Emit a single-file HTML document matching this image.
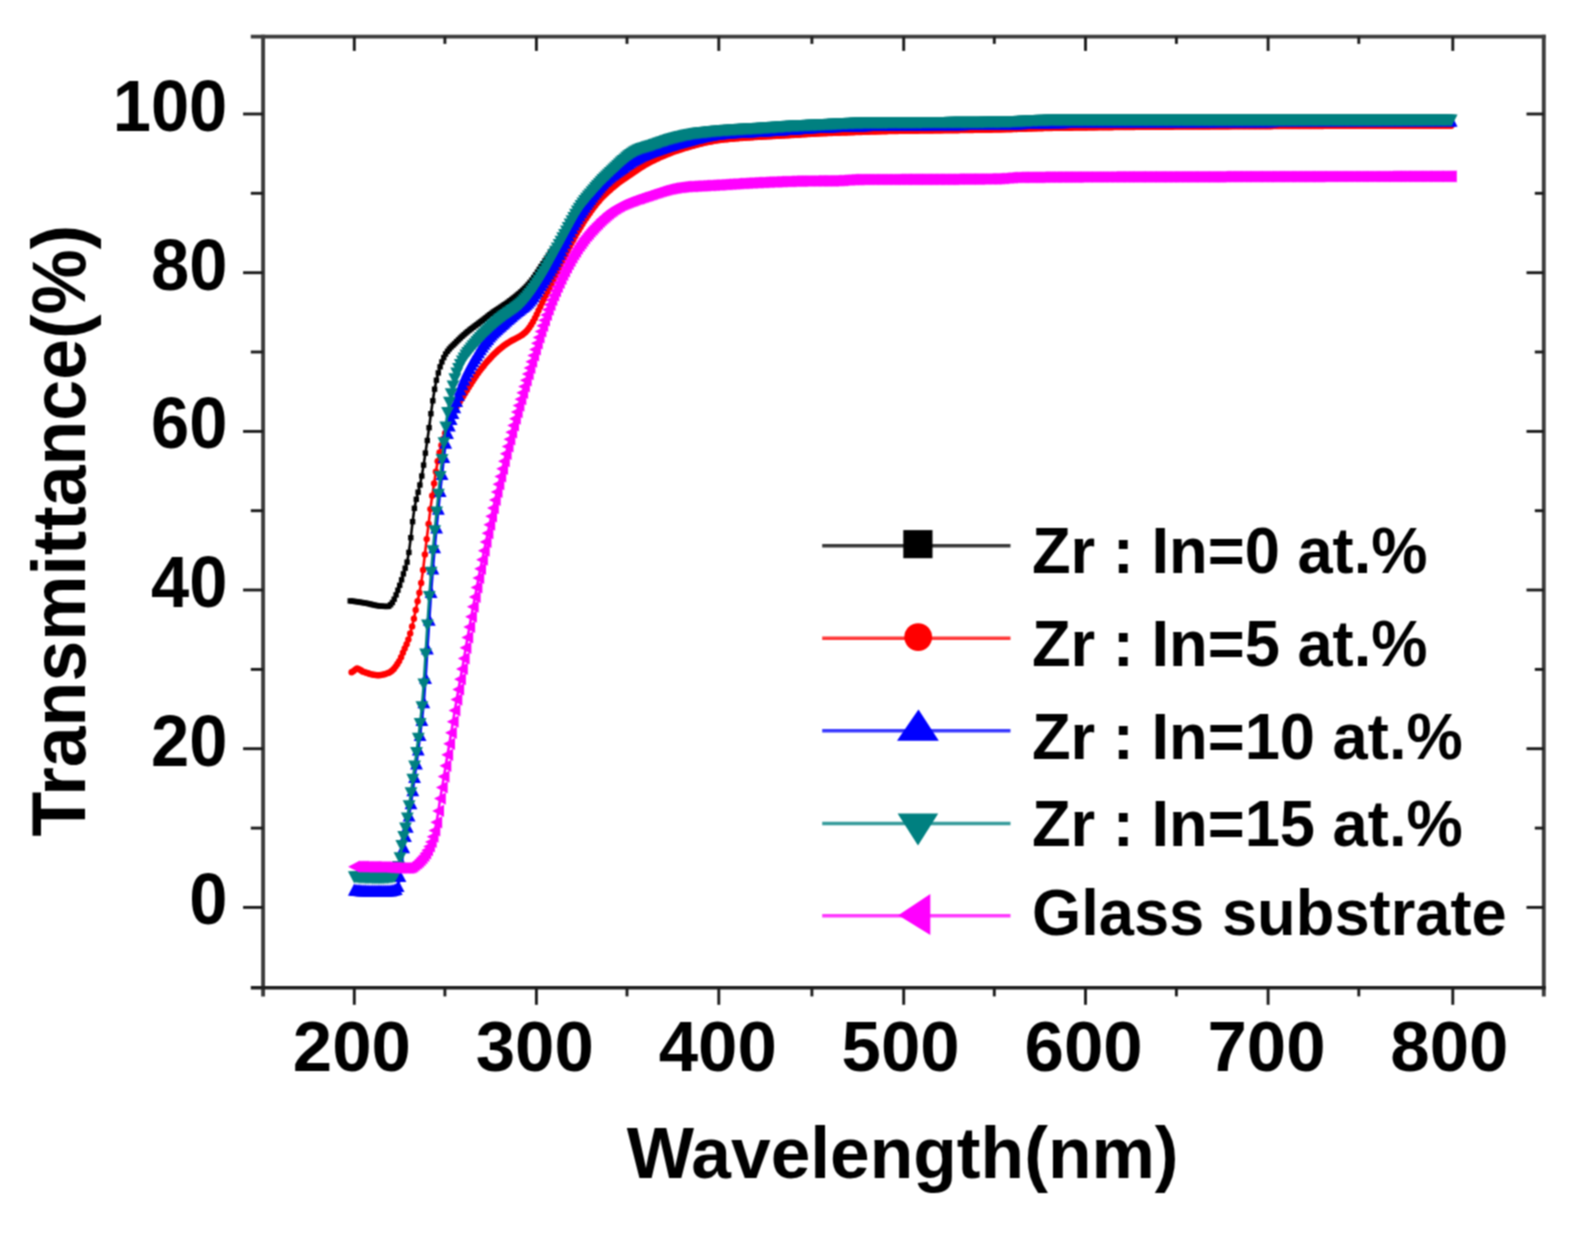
<!DOCTYPE html>
<html lang="en">
<head>
<meta charset="utf-8">
<title>Transmittance vs Wavelength</title>
<style>
html,body{margin:0;padding:0;background:#fff;}
body{width:1579px;height:1233px;overflow:hidden;}
svg{display:block;}
text{font-family:"Liberation Sans",sans-serif;font-weight:bold;fill:#000;}
</style>
</head>
<body>
<svg width="1579" height="1233" viewBox="0 0 1579 1233">
<defs>
<filter id="soft" filterUnits="userSpaceOnUse" x="0" y="0" width="1579" height="1233" color-interpolation-filters="sRGB"><feConvolveMatrix order="3" kernelMatrix="1 2 1 2 4 2 1 2 1" divisor="16" edgeMode="duplicate" preserveAlpha="false"/></filter>
<marker id="mk" markerUnits="userSpaceOnUse" markerWidth="10" markerHeight="10" refX="5" refY="5" viewBox="0 0 10 10"><rect x="2.3" y="2.3" width="5.4" height="5.4" fill="#000"/></marker>
<marker id="mr" markerUnits="userSpaceOnUse" markerWidth="10" markerHeight="10" refX="5" refY="5" viewBox="0 0 10 10"><circle cx="5" cy="5" r="3.2" fill="#f00"/></marker>
<marker id="mb" markerUnits="userSpaceOnUse" markerWidth="14" markerHeight="14" refX="7" refY="7" viewBox="0 0 14 14"><path d="M7 0.6 L13.4 12.8 L0.6 12.8 Z" fill="#00f"/></marker>
<marker id="mt" markerUnits="userSpaceOnUse" markerWidth="14" markerHeight="14" refX="7" refY="7" viewBox="0 0 14 14"><path d="M7 13.4 L13.4 1.2 L0.6 1.2 Z" fill="#008080"/></marker>
<marker id="mm" markerUnits="userSpaceOnUse" markerWidth="14" markerHeight="14" refX="7" refY="7" viewBox="0 0 14 14"><path d="M0.8 7 L12.6 0.9 L12.6 13.1 Z" fill="#f0f"/></marker>
</defs>
<g filter="url(#soft)">
<rect x="0" y="0" width="1579" height="1233" fill="#fff"/>

<g fill="none" stroke-linejoin="round">
<polyline stroke="#000" stroke-width="2.6" marker-start="url(#mk)" marker-mid="url(#mk)" marker-end="url(#mk)" points="350.2,600.9 352.0,601.1 353.9,601.3 355.7,601.6 357.5,601.8 359.4,602.1 361.2,602.4 363.0,602.7 364.9,603.0 366.7,603.3 368.6,603.7 370.4,604.1 372.2,604.6 374.1,605.0 375.9,605.4 377.7,605.7 379.6,606.0 381.4,606.1 383.2,606.3 385.1,606.4 386.9,606.5 388.7,606.3 390.6,604.7 392.4,602.5 394.2,599.2 396.1,594.9 397.9,590.2 399.7,585.3 401.6,579.8 403.4,573.9 405.2,568.2 407.1,562.1 408.9,552.4 410.8,537.7 412.6,521.7 414.4,508.3 416.3,499.3 418.1,492.2 419.9,485.0 421.8,476.0 423.6,465.1 425.4,453.1 427.3,440.5 429.1,427.7 430.9,413.7 432.8,400.8 434.6,389.2 436.4,380.2 438.3,372.9 440.1,366.8 441.9,361.9 443.8,357.6 445.6,354.0 447.5,351.3 449.3,349.0 451.1,347.0 453.0,345.2 454.8,343.5 456.6,341.6 458.5,339.8 460.3,338.0 462.1,336.3 464.0,334.7 465.8,333.1 467.6,331.6 469.5,330.1 471.3,328.7 473.1,327.3 475.0,325.9 476.8,324.6 478.6,323.2 480.5,321.8 482.3,320.4 484.2,319.0 486.0,317.6 487.8,316.1 489.7,314.7 491.5,313.4 493.3,312.0 495.2,310.8 497.0,309.6 498.8,308.4 500.7,307.2 502.5,306.0 504.3,304.7 506.2,303.5 508.0,302.2 509.8,300.8 511.7,299.4 513.5,298.0 515.4,296.5 517.2,295.0 519.0,293.5 520.9,291.8 522.7,290.2 524.5,288.4 526.4,286.5 528.2,284.5 530.0,282.3 531.9,280.0 533.7,277.5 535.5,274.8 537.4,272.1 539.2,269.3 541.0,266.5 542.9,263.7 544.7,261.0 546.5,258.3 548.4,255.8 550.2,253.3 552.0,250.9 553.9,248.5 555.7,246.1 557.6,243.7 559.4,241.1 561.2,238.5 563.1,235.7 564.9,232.7 566.7,229.7 568.6,226.5 570.4,223.3 572.2,220.0 574.1,216.8 575.9,213.7 577.7,210.7 579.6,207.9 581.4,205.2 583.2,202.7 585.1,200.3 586.9,198.0 588.8,195.8 590.6,193.7 592.4,191.5 594.3,189.4 596.1,187.3 597.9,185.3 599.8,183.3 601.6,181.3 603.4,179.4 605.3,177.6 607.1,175.7 608.9,174.0 610.8,172.2 612.6,170.5 614.4,168.7 616.3,167.0 618.1,165.3 619.9,163.6 621.8,161.9 623.6,160.2 625.5,158.6 627.3,157.1 629.1,155.6 631.0,154.2 632.8,152.9 634.6,151.7 636.5,150.5 638.3,149.5 640.1,148.5 642.0,147.6 643.8,146.7 645.6,146.0 647.5,145.2 649.3,144.5 651.1,143.8 653.0,143.2 654.8,142.5 656.6,141.9 658.5,141.4 660.3,140.8 662.1,140.3 664.0,139.8 665.8,139.3 667.7,138.8 669.5,138.4 671.3,137.9 673.2,137.5 675.0,137.1 676.8,136.8 678.7,136.4 680.5,136.1 682.3,135.7 684.2,135.4 686.0,135.1 687.8,134.8 689.7,134.5 691.5,134.3 693.3,134.0 695.2,133.7 697.0,133.5 698.8,133.3 700.7,133.0 702.5,132.8 704.4,132.6 706.2,132.4 708.0,132.2 709.9,132.0 711.7,131.8 713.5,131.6 715.4,131.4 717.2,131.3 719.0,131.1 720.9,130.9 722.7,130.8 724.5,130.7 726.4,130.5 728.2,130.4 730.0,130.3 731.9,130.1 733.7,130.0 735.5,129.9 737.4,129.8 739.2,129.7 741.1,129.6 742.9,129.5 744.7,129.4 746.6,129.3 748.4,129.2 750.2,129.1 752.1,129.0 753.9,128.9 755.7,128.8 757.6,128.6 759.4,128.5 761.2,128.4 763.1,128.3 764.9,128.2 766.7,128.0 768.6,127.9 770.4,127.8 772.2,127.7 774.1,127.5 775.9,127.4 777.8,127.3 779.6,127.1 781.4,127.0 783.3,126.9 785.1,126.7 786.9,126.6 788.8,126.5 790.6,126.4 792.4,126.3 794.3,126.2 796.1,126.1 797.9,126.0 799.8,125.9 801.6,125.8 803.4,125.7 805.3,125.7 807.1,125.6 809.0,125.5 810.8,125.5 812.6,125.4 814.5,125.3 816.3,125.2 818.1,125.1 820.0,125.0 821.8,125.0 823.6,124.9 825.5,124.8 827.3,124.7 829.1,124.6 831.0,124.5 832.8,124.4 834.6,124.3 836.5,124.2 838.3,124.1 840.1,124.0 842.0,123.9 843.8,123.9 845.6,123.8 847.5,123.7 849.3,123.6 851.2,123.6 853.0,123.5 854.8,123.5 856.7,123.4 858.5,123.4 860.3,123.3 862.2,123.3 864.0,123.2 865.8,123.2 867.7,123.2 869.5,123.1 871.3,123.1 873.2,123.1 875.0,123.1 876.8,123.0 878.7,123.0 880.5,123.0 882.3,123.0 884.2,123.0 886.0,123.0 887.9,122.9 889.7,122.9 891.5,122.9 893.4,122.9 895.2,122.9 897.0,122.9 898.9,122.9 900.7,122.9 902.5,122.8 904.4,122.8 906.2,122.8 908.0,122.8 909.9,122.8 911.7,122.8 913.5,122.8 915.4,122.8 917.2,122.8 919.0,122.8 920.9,122.8 922.7,122.7 924.6,122.7 926.4,122.7 928.2,122.7 930.1,122.7 931.9,122.7 933.7,122.7 935.6,122.7 937.4,122.7 939.2,122.7 941.1,122.7 942.9,122.7 944.7,122.7 946.6,122.7 948.4,122.7 950.2,122.6 952.1,122.6 953.9,122.6 955.8,122.6 957.6,122.6 959.4,122.6 961.3,122.6 963.1,122.6 964.9,122.6 966.8,122.6 968.6,122.6 970.4,122.5 972.3,122.5 974.1,122.5 975.9,122.5 977.8,122.5 979.6,122.5 981.4,122.5 983.3,122.5 985.1,122.4 986.9,122.4 988.8,122.4 990.6,122.4 992.5,122.4 994.3,122.4 996.1,122.3 998.0,122.3 999.8,122.3 1001.6,122.2 1003.5,122.2 1005.3,122.2 1007.1,122.1 1009.0,122.0 1010.8,122.0 1012.6,121.9 1014.5,121.8 1016.3,121.7 1018.1,121.6 1020.0,121.5 1021.8,121.5 1023.6,121.4 1025.5,121.3 1027.3,121.2 1029.1,121.1 1031.0,121.0 1032.8,120.9 1034.7,120.8 1036.5,120.8 1038.3,120.7 1040.2,120.6 1042.0,120.6 1043.8,120.5 1045.7,120.5 1047.5,120.5 1049.3,120.4 1051.2,120.4 1053.0,120.4 1054.8,120.4 1056.7,120.4 1058.5,120.4 1060.3,120.4 1062.2,120.4 1064.0,120.4 1065.8,120.4 1067.7,120.4 1069.5,120.4 1071.4,120.4 1073.2,120.4 1075.0,120.4 1076.9,120.4 1078.7,120.4 1080.5,120.4 1082.4,120.4 1084.2,120.4 1086.0,120.4 1087.9,120.4 1089.7,120.3 1091.5,120.3 1093.4,120.3 1095.2,120.3 1097.0,120.3 1098.9,120.3 1100.7,120.3 1102.5,120.3 1104.4,120.3 1106.2,120.3 1108.1,120.3 1109.9,120.3 1111.7,120.3 1113.6,120.3 1115.4,120.3 1117.2,120.3 1119.1,120.3 1120.9,120.3 1122.7,120.3 1124.6,120.3 1126.4,120.3 1128.2,120.3 1130.1,120.3 1131.9,120.3 1133.7,120.3 1135.6,120.3 1137.4,120.3 1139.2,120.3 1141.1,120.3 1142.9,120.3 1144.8,120.3 1146.6,120.3 1148.4,120.3 1150.3,120.3 1152.1,120.3 1153.9,120.3 1155.8,120.3 1157.6,120.3 1159.4,120.3 1161.3,120.3 1163.1,120.3 1164.9,120.3 1166.8,120.3 1168.6,120.3 1170.4,120.3 1172.3,120.3 1174.1,120.3 1176.0,120.3 1177.8,120.3 1179.6,120.3 1181.5,120.3 1183.3,120.3 1185.1,120.3 1187.0,120.3 1188.8,120.3 1190.6,120.3 1192.5,120.3 1194.3,120.3 1196.1,120.3 1198.0,120.3 1199.8,120.3 1201.6,120.3 1203.5,120.3 1205.3,120.3 1207.1,120.3 1209.0,120.3 1210.8,120.3 1212.6,120.3 1214.5,120.3 1216.3,120.3 1218.2,120.3 1220.0,120.3 1221.8,120.3 1223.7,120.3 1225.5,120.3 1227.3,120.3 1229.2,120.3 1231.0,120.3 1232.8,120.3 1234.7,120.3 1236.5,120.3 1238.3,120.3 1240.2,120.3 1242.0,120.3 1243.8,120.3 1245.7,120.3 1247.5,120.3 1249.3,120.3 1251.2,120.3 1253.0,120.3 1254.9,120.3 1256.7,120.3 1258.5,120.3 1260.4,120.3 1262.2,120.3 1264.0,120.3 1265.9,120.3 1267.7,120.3 1269.5,120.3 1271.4,120.3 1273.2,120.3 1275.0,120.3 1276.9,120.3 1278.7,120.3 1280.5,120.3 1282.4,120.3 1284.2,120.3 1286.0,120.3 1287.9,120.3 1289.7,120.3 1291.6,120.3 1293.4,120.3 1295.2,120.3 1297.1,120.3 1298.9,120.3 1300.7,120.3 1302.6,120.3 1304.4,120.3 1306.2,120.3 1308.1,120.3 1309.9,120.3 1311.7,120.3 1313.6,120.3 1315.4,120.3 1317.2,120.3 1319.1,120.3 1320.9,120.3 1322.8,120.3 1324.6,120.3 1326.4,120.3 1328.3,120.3 1330.1,120.3 1331.9,120.3 1333.8,120.3 1335.6,120.3 1337.4,120.3 1339.3,120.3 1341.1,120.3 1342.9,120.3 1344.8,120.3 1346.6,120.3 1348.4,120.3 1350.3,120.3 1352.1,120.3 1353.9,120.3 1355.8,120.3 1357.6,120.3 1359.5,120.3 1361.3,120.3 1363.1,120.3 1365.0,120.3 1366.8,120.3 1368.6,120.3 1370.5,120.3 1372.3,120.3 1374.1,120.3 1376.0,120.3 1377.8,120.3 1379.6,120.3 1381.5,120.3 1383.3,120.3 1385.1,120.3 1387.0,120.3 1388.8,120.3 1390.6,120.3 1392.5,120.3 1394.3,120.4 1396.2,120.4 1398.0,120.4 1399.8,120.4 1401.7,120.4 1403.5,120.4 1405.3,120.4 1407.2,120.4 1409.0,120.4 1410.8,120.4 1412.7,120.4 1414.5,120.4 1416.3,120.4 1418.2,120.4 1420.0,120.4 1421.8,120.4 1423.7,120.4 1425.5,120.4 1427.3,120.4 1429.2,120.4 1431.0,120.4 1432.9,120.4 1434.7,120.4 1436.5,120.4 1438.4,120.4 1440.2,120.4 1442.0,120.4 1443.9,120.4 1445.7,120.4 1447.5,120.4 1449.4,120.4 1451.2,120.4"/>
<polyline stroke="#f00" stroke-width="2.6" marker-start="url(#mr)" marker-mid="url(#mr)" marker-end="url(#mr)" points="351.6,672.2 353.4,671.1 355.3,669.6 357.1,668.5 358.9,669.1 360.8,670.3 362.6,671.5 364.4,672.1 366.3,672.8 368.1,673.3 369.9,673.9 371.8,674.4 373.6,674.8 375.4,675.0 377.3,675.2 379.1,675.2 380.9,675.0 382.8,674.6 384.6,674.2 386.4,673.6 388.3,672.9 390.1,672.1 391.9,670.8 393.8,668.9 395.6,666.6 397.4,664.0 399.2,661.1 401.1,657.3 402.9,652.8 404.7,648.4 406.6,644.2 408.4,639.4 410.2,633.5 412.1,626.4 413.9,618.7 415.7,610.0 417.6,601.3 419.4,592.8 421.2,583.0 423.1,569.9 424.9,554.4 426.7,539.1 428.6,523.9 430.4,509.1 432.2,495.8 434.1,483.4 435.9,471.7 437.7,461.2 439.6,452.4 441.4,445.2 443.2,438.9 445.1,433.2 446.9,427.8 448.7,423.0 450.6,418.8 452.4,414.8 454.2,411.1 456.1,407.8 457.9,404.8 459.7,401.7 461.6,398.8 463.4,395.9 465.2,393.0 467.1,390.0 468.9,387.1 470.7,384.2 472.6,381.3 474.4,378.5 476.2,375.7 478.1,373.1 479.9,370.6 481.7,368.2 483.6,365.9 485.4,363.6 487.2,361.5 489.1,359.4 490.9,357.4 492.7,355.5 494.5,353.7 496.4,351.9 498.2,350.3 500.0,348.7 501.9,347.2 503.7,345.8 505.5,344.5 507.4,343.3 509.2,342.1 511.0,341.0 512.9,340.0 514.7,339.1 516.5,338.1 518.4,337.1 520.2,336.1 522.0,334.9 523.9,333.5 525.7,331.9 527.5,329.9 529.4,327.5 531.2,324.8 533.0,321.7 534.9,318.2 536.7,314.4 538.5,310.5 540.4,306.6 542.2,302.7 544.0,298.9 545.9,295.2 547.7,291.6 549.5,288.2 551.4,284.7 553.2,281.2 555.0,277.6 556.9,273.8 558.7,270.0 560.5,266.1 562.4,262.1 564.2,258.2 566.0,254.3 567.9,250.4 569.7,246.7 571.5,243.1 573.4,239.7 575.2,236.3 577.0,233.1 578.9,229.9 580.7,226.9 582.5,223.9 584.3,221.0 586.2,218.2 588.0,215.5 589.8,212.9 591.7,210.3 593.5,207.8 595.3,205.4 597.2,203.1 599.0,200.9 600.8,198.8 602.7,196.8 604.5,195.0 606.3,193.2 608.2,191.5 610.0,189.9 611.8,188.3 613.7,186.7 615.5,185.2 617.3,183.7 619.2,182.3 621.0,181.0 622.8,179.7 624.7,178.4 626.5,177.2 628.3,176.0 630.2,174.8 632.0,173.5 633.8,172.3 635.7,171.0 637.5,169.7 639.3,168.5 641.2,167.3 643.0,166.2 644.8,165.1 646.7,164.1 648.5,163.1 650.3,162.1 652.2,161.1 654.0,160.2 655.8,159.3 657.7,158.5 659.5,157.6 661.3,156.8 663.2,156.0 665.0,155.2 666.8,154.4 668.7,153.7 670.5,153.0 672.3,152.3 674.1,151.6 676.0,151.0 677.8,150.4 679.6,149.8 681.5,149.2 683.3,148.6 685.1,148.0 687.0,147.5 688.8,147.0 690.6,146.4 692.5,145.9 694.3,145.4 696.1,144.9 698.0,144.4 699.8,143.9 701.6,143.5 703.5,143.1 705.3,142.6 707.1,142.2 709.0,141.9 710.8,141.5 712.6,141.2 714.5,140.8 716.3,140.6 718.1,140.3 720.0,140.0 721.8,139.8 723.6,139.6 725.5,139.4 727.3,139.2 729.1,139.0 731.0,138.8 732.8,138.7 734.6,138.5 736.5,138.4 738.3,138.2 740.1,138.1 742.0,138.0 743.8,137.8 745.6,137.7 747.5,137.6 749.3,137.5 751.1,137.4 753.0,137.2 754.8,137.1 756.6,137.0 758.5,136.9 760.3,136.8 762.1,136.7 764.0,136.6 765.8,136.5 767.6,136.4 769.4,136.3 771.3,136.2 773.1,136.1 774.9,136.0 776.8,135.9 778.6,135.8 780.4,135.7 782.3,135.6 784.1,135.5 785.9,135.4 787.8,135.3 789.6,135.2 791.4,135.1 793.3,135.0 795.1,134.9 796.9,134.8 798.8,134.7 800.6,134.6 802.4,134.4 804.3,134.3 806.1,134.2 807.9,134.1 809.8,134.0 811.6,133.9 813.4,133.7 815.3,133.7 817.1,133.6 818.9,133.5 820.8,133.4 822.6,133.3 824.4,133.2 826.3,133.2 828.1,133.1 829.9,133.0 831.8,133.0 833.6,132.9 835.4,132.8 837.3,132.8 839.1,132.7 840.9,132.6 842.8,132.6 844.6,132.5 846.4,132.5 848.3,132.4 850.1,132.3 851.9,132.3 853.8,132.2 855.6,132.1 857.4,132.1 859.2,132.0 861.1,132.0 862.9,131.9 864.7,131.8 866.6,131.8 868.4,131.7 870.2,131.6 872.1,131.6 873.9,131.5 875.7,131.5 877.6,131.4 879.4,131.4 881.2,131.3 883.1,131.3 884.9,131.2 886.7,131.2 888.6,131.1 890.4,131.1 892.2,131.1 894.1,131.0 895.9,131.0 897.7,131.0 899.6,130.9 901.4,130.9 903.2,130.9 905.1,130.8 906.9,130.8 908.7,130.8 910.6,130.8 912.4,130.7 914.2,130.7 916.1,130.7 917.9,130.7 919.7,130.6 921.6,130.6 923.4,130.6 925.2,130.6 927.1,130.5 928.9,130.5 930.7,130.5 932.6,130.5 934.4,130.4 936.2,130.4 938.1,130.4 939.9,130.4 941.7,130.4 943.6,130.3 945.4,130.3 947.2,130.3 949.0,130.3 950.9,130.3 952.7,130.2 954.5,130.2 956.4,130.2 958.2,130.2 960.0,130.1 961.9,130.1 963.7,130.1 965.5,130.1 967.4,130.0 969.2,130.0 971.0,130.0 972.9,130.0 974.7,129.9 976.5,129.9 978.4,129.9 980.2,129.9 982.0,129.8 983.9,129.8 985.7,129.8 987.5,129.7 989.4,129.7 991.2,129.7 993.0,129.6 994.9,129.6 996.7,129.6 998.5,129.5 1000.4,129.5 1002.2,129.4 1004.0,129.4 1005.9,129.3 1007.7,129.3 1009.5,129.2 1011.4,129.2 1013.2,129.1 1015.0,129.1 1016.9,129.0 1018.7,128.9 1020.5,128.9 1022.4,128.8 1024.2,128.8 1026.0,128.7 1027.9,128.6 1029.7,128.6 1031.5,128.5 1033.4,128.4 1035.2,128.4 1037.0,128.3 1038.8,128.3 1040.7,128.2 1042.5,128.2 1044.3,128.1 1046.2,128.1 1048.0,128.0 1049.8,128.0 1051.7,128.0 1053.5,127.9 1055.3,127.9 1057.2,127.9 1059.0,127.9 1060.8,127.8 1062.7,127.8 1064.5,127.8 1066.3,127.7 1068.2,127.7 1070.0,127.7 1071.8,127.7 1073.7,127.6 1075.5,127.6 1077.3,127.6 1079.2,127.6 1081.0,127.5 1082.8,127.5 1084.7,127.5 1086.5,127.5 1088.3,127.4 1090.2,127.4 1092.0,127.4 1093.8,127.4 1095.7,127.4 1097.5,127.3 1099.3,127.3 1101.2,127.3 1103.0,127.3 1104.8,127.2 1106.7,127.2 1108.5,127.2 1110.3,127.2 1112.2,127.2 1114.0,127.1 1115.8,127.1 1117.7,127.1 1119.5,127.1 1121.3,127.1 1123.2,127.1 1125.0,127.0 1126.8,127.0 1128.7,127.0 1130.5,127.0 1132.3,127.0 1134.1,127.0 1136.0,126.9 1137.8,126.9 1139.6,126.9 1141.5,126.9 1143.3,126.9 1145.1,126.9 1147.0,126.8 1148.8,126.8 1150.6,126.8 1152.5,126.8 1154.3,126.8 1156.1,126.8 1158.0,126.8 1159.8,126.7 1161.6,126.7 1163.5,126.7 1165.3,126.7 1167.1,126.7 1169.0,126.7 1170.8,126.7 1172.6,126.7 1174.5,126.6 1176.3,126.6 1178.1,126.6 1180.0,126.6 1181.8,126.6 1183.6,126.6 1185.5,126.6 1187.3,126.6 1189.1,126.6 1191.0,126.5 1192.8,126.5 1194.6,126.5 1196.5,126.5 1198.3,126.5 1200.1,126.5 1202.0,126.5 1203.8,126.5 1205.6,126.5 1207.5,126.5 1209.3,126.5 1211.1,126.4 1213.0,126.4 1214.8,126.4 1216.6,126.4 1218.5,126.4 1220.3,126.4 1222.1,126.4 1223.9,126.4 1225.8,126.4 1227.6,126.4 1229.4,126.4 1231.3,126.3 1233.1,126.3 1234.9,126.3 1236.8,126.3 1238.6,126.3 1240.4,126.3 1242.3,126.3 1244.1,126.3 1245.9,126.3 1247.8,126.3 1249.6,126.3 1251.4,126.2 1253.3,126.2 1255.1,126.2 1256.9,126.2 1258.8,126.2 1260.6,126.2 1262.4,126.2 1264.3,126.2 1266.1,126.2 1267.9,126.2 1269.8,126.2 1271.6,126.2 1273.4,126.1 1275.3,126.1 1277.1,126.1 1278.9,126.1 1280.8,126.1 1282.6,126.1 1284.4,126.1 1286.3,126.1 1288.1,126.1 1289.9,126.1 1291.8,126.1 1293.6,126.1 1295.4,126.1 1297.3,126.0 1299.1,126.0 1300.9,126.0 1302.8,126.0 1304.6,126.0 1306.4,126.0 1308.3,126.0 1310.1,126.0 1311.9,126.0 1313.8,126.0 1315.6,126.0 1317.4,126.0 1319.2,126.0 1321.1,126.0 1322.9,126.0 1324.7,125.9 1326.6,125.9 1328.4,125.9 1330.2,125.9 1332.1,125.9 1333.9,125.9 1335.7,125.9 1337.6,125.9 1339.4,125.9 1341.2,125.9 1343.1,125.9 1344.9,125.9 1346.7,125.9 1348.6,125.9 1350.4,125.9 1352.2,125.9 1354.1,125.9 1355.9,125.8 1357.7,125.8 1359.6,125.8 1361.4,125.8 1363.2,125.8 1365.1,125.8 1366.9,125.8 1368.7,125.8 1370.6,125.8 1372.4,125.8 1374.2,125.8 1376.1,125.8 1377.9,125.8 1379.7,125.8 1381.6,125.8 1383.4,125.8 1385.2,125.8 1387.1,125.8 1388.9,125.8 1390.7,125.8 1392.6,125.8 1394.4,125.8 1396.2,125.8 1398.1,125.7 1399.9,125.7 1401.7,125.7 1403.6,125.7 1405.4,125.7 1407.2,125.7 1409.0,125.7 1410.9,125.7 1412.7,125.7 1414.5,125.7 1416.4,125.7 1418.2,125.7 1420.0,125.7 1421.9,125.7 1423.7,125.7 1425.5,125.7 1427.4,125.7 1429.2,125.7 1431.0,125.7 1432.9,125.7 1434.7,125.7 1436.5,125.7 1438.4,125.7 1440.2,125.7 1442.0,125.7 1443.9,125.7 1445.7,125.7 1447.5,125.7 1449.4,125.7 1451.2,125.7"/>
<polyline stroke="#00f" stroke-width="2.6" marker-start="url(#mb)" marker-mid="url(#mb)" marker-end="url(#mb)" points="354.3,890.0 356.1,890.2 358.0,890.3 359.8,890.4 361.6,890.6 363.4,890.7 365.3,890.7 367.1,890.8 368.9,890.9 370.8,890.9 372.6,890.9 374.4,891.0 376.2,891.0 378.1,891.0 379.9,891.0 381.7,891.0 383.6,891.0 385.4,891.0 387.2,890.9 389.0,890.8 390.9,890.6 392.7,890.3 394.5,889.8 396.3,889.2 398.2,886.3 400.0,876.3 401.8,863.7 403.7,847.5 405.5,836.3 407.3,826.9 409.1,815.8 411.0,803.5 412.8,790.5 414.6,777.2 416.5,763.8 418.3,749.7 420.1,735.1 421.9,720.2 423.8,702.5 425.6,678.2 427.4,648.7 429.3,620.0 431.1,592.2 432.9,568.6 434.7,547.4 436.6,527.6 438.4,508.9 440.2,491.2 442.1,474.3 443.9,457.3 445.7,442.9 447.5,433.2 449.4,425.8 451.2,419.3 453.0,413.3 454.8,407.5 456.7,401.3 458.5,395.2 460.3,389.6 462.2,384.5 464.0,379.9 465.8,375.7 467.6,371.7 469.5,368.1 471.3,364.7 473.1,361.5 475.0,358.4 476.8,355.4 478.6,352.4 480.4,349.5 482.3,346.7 484.1,344.0 485.9,341.5 487.8,339.1 489.6,336.8 491.4,334.7 493.2,332.8 495.1,331.0 496.9,329.2 498.7,327.5 500.6,325.9 502.4,324.2 504.2,322.6 506.0,320.9 507.9,319.3 509.7,317.7 511.5,316.1 513.4,314.5 515.2,313.0 517.0,311.5 518.8,310.1 520.7,308.7 522.5,307.3 524.3,305.9 526.1,304.4 528.0,302.7 529.8,300.8 531.6,298.7 533.5,296.4 535.3,293.8 537.1,291.1 538.9,288.2 540.8,285.3 542.6,282.4 544.4,279.5 546.3,276.6 548.1,273.7 549.9,270.8 551.7,267.8 553.6,264.6 555.4,261.4 557.2,257.9 559.1,254.3 560.9,250.6 562.7,246.8 564.5,242.9 566.4,239.1 568.2,235.4 570.0,231.7 571.9,228.2 573.7,224.8 575.5,221.6 577.3,218.4 579.2,215.4 581.0,212.5 582.8,209.6 584.6,206.9 586.5,204.3 588.3,201.8 590.1,199.2 592.0,196.8 593.8,194.3 595.6,191.9 597.4,189.6 599.3,187.4 601.1,185.2 602.9,183.2 604.8,181.3 606.6,179.6 608.4,177.9 610.2,176.4 612.1,175.0 613.9,173.6 615.7,172.3 617.6,171.0 619.4,169.7 621.2,168.4 623.0,167.1 624.9,165.8 626.7,164.5 628.5,163.3 630.4,162.0 632.2,160.8 634.0,159.7 635.8,158.6 637.7,157.6 639.5,156.7 641.3,155.8 643.2,155.0 645.0,154.2 646.8,153.4 648.6,152.7 650.5,152.0 652.3,151.3 654.1,150.7 655.9,150.0 657.8,149.4 659.6,148.8 661.4,148.2 663.3,147.5 665.1,146.9 666.9,146.3 668.7,145.7 670.6,145.1 672.4,144.6 674.2,144.0 676.1,143.4 677.9,142.9 679.7,142.4 681.5,141.9 683.4,141.4 685.2,140.9 687.0,140.4 688.9,139.9 690.7,139.4 692.5,138.9 694.3,138.5 696.2,138.0 698.0,137.6 699.8,137.1 701.7,136.7 703.5,136.3 705.3,135.9 707.1,135.6 709.0,135.2 710.8,134.9 712.6,134.6 714.4,134.3 716.3,134.1 718.1,133.8 719.9,133.6 721.8,133.4 723.6,133.2 725.4,133.1 727.2,132.9 729.1,132.8 730.9,132.6 732.7,132.5 734.6,132.4 736.4,132.3 738.2,132.2 740.0,132.1 741.9,132.0 743.7,131.9 745.5,131.8 747.4,131.7 749.2,131.6 751.0,131.5 752.8,131.4 754.7,131.3 756.5,131.2 758.3,131.1 760.2,131.0 762.0,130.9 763.8,130.8 765.6,130.6 767.5,130.5 769.3,130.4 771.1,130.3 773.0,130.2 774.8,130.1 776.6,129.9 778.4,129.8 780.3,129.7 782.1,129.6 783.9,129.5 785.7,129.3 787.6,129.2 789.4,129.1 791.2,129.0 793.1,128.8 794.9,128.7 796.7,128.6 798.5,128.4 800.4,128.3 802.2,128.1 804.0,128.0 805.9,127.9 807.7,127.7 809.5,127.6 811.3,127.5 813.2,127.4 815.0,127.3 816.8,127.2 818.7,127.1 820.5,127.0 822.3,126.9 824.1,126.8 826.0,126.7 827.8,126.7 829.6,126.6 831.5,126.5 833.3,126.5 835.1,126.4 836.9,126.3 838.8,126.3 840.6,126.2 842.4,126.2 844.2,126.1 846.1,126.0 847.9,126.0 849.7,125.9 851.6,125.9 853.4,125.8 855.2,125.7 857.0,125.7 858.9,125.6 860.7,125.6 862.5,125.5 864.4,125.5 866.2,125.4 868.0,125.3 869.8,125.3 871.7,125.2 873.5,125.2 875.3,125.1 877.2,125.1 879.0,125.1 880.8,125.0 882.6,125.0 884.5,125.0 886.3,124.9 888.1,124.9 890.0,124.9 891.8,124.9 893.6,124.8 895.4,124.8 897.3,124.8 899.1,124.8 900.9,124.8 902.8,124.7 904.6,124.7 906.4,124.7 908.2,124.7 910.1,124.7 911.9,124.7 913.7,124.7 915.5,124.6 917.4,124.6 919.2,124.6 921.0,124.6 922.9,124.6 924.7,124.6 926.5,124.6 928.3,124.6 930.2,124.5 932.0,124.5 933.8,124.5 935.7,124.5 937.5,124.5 939.3,124.5 941.1,124.5 943.0,124.5 944.8,124.5 946.6,124.5 948.5,124.4 950.3,124.4 952.1,124.4 953.9,124.4 955.8,124.4 957.6,124.4 959.4,124.4 961.3,124.4 963.1,124.4 964.9,124.3 966.7,124.3 968.6,124.3 970.4,124.3 972.2,124.3 974.0,124.3 975.9,124.3 977.7,124.2 979.5,124.2 981.4,124.2 983.2,124.2 985.0,124.2 986.8,124.2 988.7,124.1 990.5,124.1 992.3,124.1 994.2,124.1 996.0,124.0 997.8,124.0 999.6,124.0 1001.5,124.0 1003.3,123.9 1005.1,123.9 1007.0,123.8 1008.8,123.8 1010.6,123.7 1012.4,123.7 1014.3,123.6 1016.1,123.6 1017.9,123.5 1019.8,123.4 1021.6,123.4 1023.4,123.3 1025.2,123.2 1027.1,123.2 1028.9,123.1 1030.7,123.0 1032.5,123.0 1034.4,122.9 1036.2,122.8 1038.0,122.8 1039.9,122.7 1041.7,122.7 1043.5,122.6 1045.3,122.6 1047.2,122.6 1049.0,122.5 1050.8,122.5 1052.7,122.5 1054.5,122.5 1056.3,122.4 1058.1,122.4 1060.0,122.4 1061.8,122.4 1063.6,122.4 1065.5,122.3 1067.3,122.3 1069.1,122.3 1070.9,122.3 1072.8,122.3 1074.6,122.3 1076.4,122.2 1078.3,122.2 1080.1,122.2 1081.9,122.2 1083.7,122.2 1085.6,122.2 1087.4,122.1 1089.2,122.1 1091.1,122.1 1092.9,122.1 1094.7,122.1 1096.5,122.1 1098.4,122.1 1100.2,122.1 1102.0,122.0 1103.8,122.0 1105.7,122.0 1107.5,122.0 1109.3,122.0 1111.2,122.0 1113.0,122.0 1114.8,122.0 1116.6,122.0 1118.5,121.9 1120.3,121.9 1122.1,121.9 1124.0,121.9 1125.8,121.9 1127.6,121.9 1129.4,121.9 1131.3,121.9 1133.1,121.9 1134.9,121.9 1136.8,121.8 1138.6,121.8 1140.4,121.8 1142.2,121.8 1144.1,121.8 1145.9,121.8 1147.7,121.8 1149.6,121.8 1151.4,121.8 1153.2,121.8 1155.0,121.8 1156.9,121.8 1158.7,121.8 1160.5,121.7 1162.3,121.7 1164.2,121.7 1166.0,121.7 1167.8,121.7 1169.7,121.7 1171.5,121.7 1173.3,121.7 1175.1,121.7 1177.0,121.7 1178.8,121.7 1180.6,121.7 1182.5,121.7 1184.3,121.7 1186.1,121.6 1187.9,121.6 1189.8,121.6 1191.6,121.6 1193.4,121.6 1195.3,121.6 1197.1,121.6 1198.9,121.6 1200.7,121.6 1202.6,121.6 1204.4,121.6 1206.2,121.6 1208.1,121.6 1209.9,121.6 1211.7,121.6 1213.5,121.6 1215.4,121.5 1217.2,121.5 1219.0,121.5 1220.9,121.5 1222.7,121.5 1224.5,121.5 1226.3,121.5 1228.2,121.5 1230.0,121.5 1231.8,121.5 1233.6,121.5 1235.5,121.5 1237.3,121.5 1239.1,121.5 1241.0,121.5 1242.8,121.5 1244.6,121.4 1246.4,121.4 1248.3,121.4 1250.1,121.4 1251.9,121.4 1253.8,121.4 1255.6,121.4 1257.4,121.4 1259.2,121.4 1261.1,121.4 1262.9,121.4 1264.7,121.4 1266.6,121.4 1268.4,121.4 1270.2,121.4 1272.0,121.4 1273.9,121.3 1275.7,121.3 1277.5,121.3 1279.4,121.3 1281.2,121.3 1283.0,121.3 1284.8,121.3 1286.7,121.3 1288.5,121.3 1290.3,121.3 1292.1,121.3 1294.0,121.3 1295.8,121.3 1297.6,121.3 1299.5,121.3 1301.3,121.3 1303.1,121.3 1304.9,121.3 1306.8,121.2 1308.6,121.2 1310.4,121.2 1312.3,121.2 1314.1,121.2 1315.9,121.2 1317.7,121.2 1319.6,121.2 1321.4,121.2 1323.2,121.2 1325.1,121.2 1326.9,121.2 1328.7,121.2 1330.5,121.2 1332.4,121.2 1334.2,121.2 1336.0,121.2 1337.9,121.2 1339.7,121.2 1341.5,121.2 1343.3,121.1 1345.2,121.1 1347.0,121.1 1348.8,121.1 1350.7,121.1 1352.5,121.1 1354.3,121.1 1356.1,121.1 1358.0,121.1 1359.8,121.1 1361.6,121.1 1363.4,121.1 1365.3,121.1 1367.1,121.1 1368.9,121.1 1370.8,121.1 1372.6,121.1 1374.4,121.1 1376.2,121.1 1378.1,121.1 1379.9,121.1 1381.7,121.1 1383.6,121.1 1385.4,121.1 1387.2,121.1 1389.0,121.1 1390.9,121.1 1392.7,121.1 1394.5,121.0 1396.4,121.0 1398.2,121.0 1400.0,121.0 1401.8,121.0 1403.7,121.0 1405.5,121.0 1407.3,121.0 1409.2,121.0 1411.0,121.0 1412.8,121.0 1414.6,121.0 1416.5,121.0 1418.3,121.0 1420.1,121.0 1421.9,121.0 1423.8,121.0 1425.6,121.0 1427.4,121.0 1429.3,121.0 1431.1,121.0 1432.9,121.0 1434.7,121.0 1436.6,121.0 1438.4,121.0 1440.2,121.0 1442.1,121.0 1443.9,121.0 1445.7,121.0 1447.5,121.0 1449.4,121.0 1451.2,121.0"/>
<polyline stroke="#008080" stroke-width="2.6" marker-start="url(#mt)" marker-mid="url(#mt)" marker-end="url(#mt)" points="354.3,877.0 356.1,877.2 358.0,877.4 359.8,877.5 361.6,877.6 363.4,877.7 365.3,877.8 367.1,877.9 368.9,877.9 370.8,877.9 372.6,878.0 374.4,878.0 376.2,878.0 378.1,878.0 379.9,878.0 381.7,878.0 383.6,878.0 385.4,877.9 387.2,877.8 389.0,877.6 390.9,877.4 392.7,877.2 394.5,876.7 396.3,873.1 398.2,866.9 400.0,858.0 401.8,845.9 403.7,836.8 405.5,828.3 407.3,818.2 409.1,806.1 411.0,793.0 412.8,779.6 414.6,766.4 416.5,752.9 418.3,738.6 420.1,723.9 421.9,707.1 423.8,684.2 425.6,654.2 427.4,625.2 429.3,596.8 431.1,572.6 432.9,551.1 434.7,531.1 436.6,512.4 438.4,494.6 440.2,476.9 442.1,459.7 443.9,443.0 445.7,427.2 447.5,412.8 449.4,402.5 451.2,394.0 453.0,386.2 454.8,379.1 456.7,373.3 458.5,368.7 460.3,364.7 462.2,361.2 464.0,358.2 465.8,355.4 467.6,352.8 469.5,350.5 471.3,348.2 473.1,346.1 475.0,344.0 476.8,341.9 478.6,339.9 480.4,337.9 482.3,335.9 484.1,334.0 485.9,332.1 487.8,330.3 489.6,328.5 491.4,326.8 493.2,325.1 495.1,323.5 496.9,321.9 498.7,320.4 500.6,318.9 502.4,317.4 504.2,316.0 506.0,314.7 507.9,313.4 509.7,312.2 511.5,310.9 513.4,309.7 515.2,308.4 517.0,307.1 518.8,305.6 520.7,304.0 522.5,302.2 524.3,300.3 526.1,298.3 528.0,296.1 529.8,293.8 531.6,291.4 533.5,288.8 535.3,286.1 537.1,283.4 538.9,280.6 540.8,277.6 542.6,274.6 544.4,271.5 546.3,268.3 548.1,265.0 549.9,261.6 551.7,258.3 553.6,254.9 555.4,251.5 557.2,248.2 559.1,244.8 560.9,241.5 562.7,238.1 564.5,234.7 566.4,231.3 568.2,227.8 570.0,224.4 571.9,221.0 573.7,217.7 575.5,214.5 577.3,211.4 579.2,208.5 581.0,205.8 582.8,203.2 584.6,200.8 586.5,198.5 588.3,196.3 590.1,194.2 592.0,192.1 593.8,190.0 595.6,187.9 597.4,185.8 599.3,183.8 601.1,181.8 602.9,179.9 604.8,178.1 606.6,176.2 608.4,174.5 610.2,172.7 612.1,171.0 613.9,169.2 615.7,167.5 617.6,165.8 619.4,164.1 621.2,162.4 623.0,160.8 624.9,159.2 626.7,157.6 628.5,156.1 630.4,154.8 632.2,153.5 634.0,152.3 635.8,151.3 637.7,150.4 639.5,149.6 641.3,148.9 643.2,148.2 645.0,147.7 646.8,147.1 648.6,146.6 650.5,146.0 652.3,145.5 654.1,144.9 655.9,144.2 657.8,143.6 659.6,143.0 661.4,142.3 663.3,141.7 665.1,141.1 666.9,140.5 668.7,139.9 670.6,139.4 672.4,138.9 674.2,138.3 676.1,137.8 677.9,137.4 679.7,136.9 681.5,136.5 683.4,136.0 685.2,135.6 687.0,135.2 688.9,134.9 690.7,134.5 692.5,134.2 694.3,133.9 696.2,133.6 698.0,133.4 699.8,133.1 701.7,132.9 703.5,132.7 705.3,132.5 707.1,132.3 709.0,132.1 710.8,131.9 712.6,131.7 714.4,131.5 716.3,131.3 718.1,131.2 719.9,131.0 721.8,130.9 723.6,130.7 725.4,130.6 727.2,130.5 729.1,130.3 730.9,130.2 732.7,130.1 734.6,130.0 736.4,129.9 738.2,129.7 740.0,129.6 741.9,129.5 743.7,129.4 745.5,129.3 747.4,129.2 749.2,129.1 751.0,129.0 752.8,128.9 754.7,128.8 756.5,128.7 758.3,128.6 760.2,128.5 762.0,128.4 763.8,128.2 765.6,128.1 767.5,128.0 769.3,127.9 771.1,127.7 773.0,127.6 774.8,127.5 776.6,127.3 778.4,127.2 780.3,127.1 782.1,127.0 783.9,126.8 785.7,126.7 787.6,126.6 789.4,126.5 791.2,126.4 793.1,126.2 794.9,126.1 796.7,126.1 798.5,126.0 800.4,125.9 802.2,125.8 804.0,125.7 805.9,125.7 807.7,125.6 809.5,125.5 811.3,125.4 813.2,125.4 815.0,125.3 816.8,125.2 818.7,125.1 820.5,125.0 822.3,124.9 824.1,124.8 826.0,124.7 827.8,124.7 829.6,124.6 831.5,124.5 833.3,124.4 835.1,124.3 836.9,124.2 838.8,124.1 840.6,124.0 842.4,123.9 844.2,123.8 846.1,123.8 847.9,123.7 849.7,123.6 851.6,123.6 853.4,123.5 855.2,123.4 857.0,123.4 858.9,123.3 860.7,123.3 862.5,123.3 864.4,123.2 866.2,123.2 868.0,123.2 869.8,123.1 871.7,123.1 873.5,123.1 875.3,123.1 877.2,123.0 879.0,123.0 880.8,123.0 882.6,123.0 884.5,123.0 886.3,123.0 888.1,122.9 890.0,122.9 891.8,122.9 893.6,122.9 895.4,122.9 897.3,122.9 899.1,122.9 900.9,122.9 902.8,122.8 904.6,122.8 906.4,122.8 908.2,122.8 910.1,122.8 911.9,122.8 913.7,122.8 915.5,122.8 917.4,122.8 919.2,122.8 921.0,122.8 922.9,122.7 924.7,122.7 926.5,122.7 928.3,122.7 930.2,122.7 932.0,122.7 933.8,122.7 935.7,122.7 937.5,122.7 939.3,122.7 941.1,122.7 943.0,122.7 944.8,122.7 946.6,122.7 948.5,122.7 950.3,122.6 952.1,122.6 953.9,122.6 955.8,122.6 957.6,122.6 959.4,122.6 961.3,122.6 963.1,122.6 964.9,122.6 966.7,122.6 968.6,122.6 970.4,122.5 972.2,122.5 974.0,122.5 975.9,122.5 977.7,122.5 979.5,122.5 981.4,122.5 983.2,122.5 985.0,122.4 986.8,122.4 988.7,122.4 990.5,122.4 992.3,122.4 994.2,122.4 996.0,122.3 997.8,122.3 999.6,122.3 1001.5,122.2 1003.3,122.2 1005.1,122.2 1007.0,122.1 1008.8,122.0 1010.6,122.0 1012.4,121.9 1014.3,121.8 1016.1,121.7 1017.9,121.7 1019.8,121.6 1021.6,121.5 1023.4,121.4 1025.2,121.3 1027.1,121.2 1028.9,121.1 1030.7,121.0 1032.5,120.9 1034.4,120.8 1036.2,120.8 1038.0,120.7 1039.9,120.6 1041.7,120.6 1043.5,120.5 1045.3,120.5 1047.2,120.5 1049.0,120.4 1050.8,120.4 1052.7,120.4 1054.5,120.4 1056.3,120.4 1058.1,120.4 1060.0,120.4 1061.8,120.4 1063.6,120.4 1065.5,120.4 1067.3,120.4 1069.1,120.4 1070.9,120.4 1072.8,120.4 1074.6,120.4 1076.4,120.4 1078.3,120.4 1080.1,120.4 1081.9,120.4 1083.7,120.4 1085.6,120.4 1087.4,120.4 1089.2,120.3 1091.1,120.3 1092.9,120.3 1094.7,120.3 1096.5,120.3 1098.4,120.3 1100.2,120.3 1102.0,120.3 1103.8,120.3 1105.7,120.3 1107.5,120.3 1109.3,120.3 1111.2,120.3 1113.0,120.3 1114.8,120.3 1116.6,120.3 1118.5,120.3 1120.3,120.3 1122.1,120.3 1124.0,120.3 1125.8,120.3 1127.6,120.3 1129.4,120.3 1131.3,120.3 1133.1,120.3 1134.9,120.3 1136.8,120.3 1138.6,120.3 1140.4,120.3 1142.2,120.3 1144.1,120.3 1145.9,120.3 1147.7,120.3 1149.6,120.3 1151.4,120.3 1153.2,120.3 1155.0,120.3 1156.9,120.3 1158.7,120.3 1160.5,120.3 1162.3,120.3 1164.2,120.3 1166.0,120.3 1167.8,120.3 1169.7,120.3 1171.5,120.3 1173.3,120.3 1175.1,120.3 1177.0,120.3 1178.8,120.3 1180.6,120.3 1182.5,120.3 1184.3,120.3 1186.1,120.3 1187.9,120.3 1189.8,120.3 1191.6,120.3 1193.4,120.3 1195.3,120.3 1197.1,120.3 1198.9,120.3 1200.7,120.3 1202.6,120.3 1204.4,120.3 1206.2,120.3 1208.1,120.3 1209.9,120.3 1211.7,120.3 1213.5,120.3 1215.4,120.3 1217.2,120.3 1219.0,120.3 1220.9,120.3 1222.7,120.3 1224.5,120.3 1226.3,120.3 1228.2,120.3 1230.0,120.3 1231.8,120.3 1233.6,120.3 1235.5,120.3 1237.3,120.3 1239.1,120.3 1241.0,120.3 1242.8,120.3 1244.6,120.3 1246.4,120.3 1248.3,120.3 1250.1,120.3 1251.9,120.3 1253.8,120.3 1255.6,120.3 1257.4,120.3 1259.2,120.3 1261.1,120.3 1262.9,120.3 1264.7,120.3 1266.6,120.3 1268.4,120.3 1270.2,120.3 1272.0,120.3 1273.9,120.3 1275.7,120.3 1277.5,120.3 1279.4,120.3 1281.2,120.3 1283.0,120.3 1284.8,120.3 1286.7,120.3 1288.5,120.3 1290.3,120.3 1292.1,120.3 1294.0,120.3 1295.8,120.3 1297.6,120.3 1299.5,120.3 1301.3,120.3 1303.1,120.3 1304.9,120.3 1306.8,120.3 1308.6,120.3 1310.4,120.3 1312.3,120.3 1314.1,120.3 1315.9,120.3 1317.7,120.3 1319.6,120.3 1321.4,120.3 1323.2,120.3 1325.1,120.3 1326.9,120.3 1328.7,120.3 1330.5,120.3 1332.4,120.3 1334.2,120.3 1336.0,120.3 1337.9,120.3 1339.7,120.3 1341.5,120.3 1343.3,120.3 1345.2,120.3 1347.0,120.3 1348.8,120.3 1350.7,120.3 1352.5,120.3 1354.3,120.3 1356.1,120.3 1358.0,120.3 1359.8,120.3 1361.6,120.3 1363.4,120.3 1365.3,120.3 1367.1,120.3 1368.9,120.3 1370.8,120.3 1372.6,120.3 1374.4,120.3 1376.2,120.3 1378.1,120.3 1379.9,120.3 1381.7,120.3 1383.6,120.3 1385.4,120.3 1387.2,120.3 1389.0,120.3 1390.9,120.3 1392.7,120.3 1394.5,120.4 1396.4,120.4 1398.2,120.4 1400.0,120.4 1401.8,120.4 1403.7,120.4 1405.5,120.4 1407.3,120.4 1409.2,120.4 1411.0,120.4 1412.8,120.4 1414.6,120.4 1416.5,120.4 1418.3,120.4 1420.1,120.4 1421.9,120.4 1423.8,120.4 1425.6,120.4 1427.4,120.4 1429.3,120.4 1431.1,120.4 1432.9,120.4 1434.7,120.4 1436.6,120.4 1438.4,120.4 1440.2,120.4 1442.1,120.4 1443.9,120.4 1445.7,120.4 1447.5,120.4 1449.4,120.4 1451.2,120.4"/>
<polyline stroke="#f0f" stroke-width="2.6" marker-start="url(#mm)" marker-mid="url(#mm)" marker-end="url(#mm)" points="354.3,866.7 356.1,866.7 358.0,866.7 359.8,866.7 361.6,866.7 363.4,866.7 365.3,866.8 367.1,866.8 368.9,866.8 370.8,866.8 372.6,866.9 374.4,866.9 376.2,866.9 378.1,867.0 379.9,867.0 381.7,867.0 383.6,867.1 385.4,867.2 387.2,867.4 389.0,867.5 390.9,867.6 392.7,867.7 394.5,867.8 396.3,867.9 398.2,868.0 400.0,868.0 401.8,868.0 403.7,868.0 405.5,868.0 407.3,868.0 409.1,868.0 411.0,867.5 412.8,866.5 414.6,865.0 416.5,863.4 418.3,861.8 420.1,860.1 421.9,858.1 423.8,855.9 425.6,853.3 427.4,850.2 429.3,846.5 431.1,842.0 432.9,836.7 434.7,830.5 436.6,822.3 438.4,810.9 440.2,798.6 442.1,787.4 443.9,776.6 445.7,765.8 447.5,754.8 449.4,743.8 451.2,732.8 453.0,721.7 454.8,710.4 456.7,699.6 458.5,689.4 460.3,679.2 462.2,668.9 464.0,658.4 465.8,647.8 467.6,637.4 469.5,627.0 471.3,616.7 473.1,606.7 475.0,596.9 476.8,587.4 478.6,578.0 480.4,568.8 482.3,559.7 484.1,550.7 485.9,541.9 487.8,533.2 489.6,524.7 491.4,516.3 493.2,508.1 495.1,500.0 496.9,492.0 498.7,484.2 500.6,476.4 502.4,468.8 504.2,461.2 506.0,453.8 507.9,446.5 509.7,439.3 511.5,432.3 513.4,425.4 515.2,418.7 517.0,412.1 518.8,405.6 520.7,399.2 522.5,392.8 524.3,386.5 526.1,380.3 528.0,374.1 529.8,367.9 531.6,361.7 533.5,355.5 535.3,349.4 537.1,343.3 538.9,337.4 540.8,331.5 542.6,325.8 544.4,320.3 546.3,314.9 548.1,309.7 549.9,304.8 551.7,300.0 553.6,295.4 555.4,291.1 557.2,286.9 559.1,282.8 560.9,278.8 562.7,275.0 564.5,271.3 566.4,267.7 568.2,264.2 570.0,260.8 571.9,257.6 573.7,254.5 575.5,251.6 577.3,248.7 579.2,245.9 581.0,243.3 582.8,240.8 584.6,238.3 586.5,236.0 588.3,233.8 590.1,231.7 592.0,229.6 593.8,227.6 595.6,225.7 597.4,223.8 599.3,221.9 601.1,220.1 602.9,218.4 604.8,216.8 606.6,215.2 608.4,213.6 610.2,212.2 612.1,210.8 613.9,209.5 615.7,208.3 617.6,207.2 619.4,206.2 621.2,205.2 623.0,204.4 624.9,203.6 626.7,202.9 628.5,202.2 630.4,201.5 632.2,200.8 634.0,200.2 635.8,199.5 637.7,198.9 639.5,198.3 641.3,197.7 643.2,197.1 645.0,196.5 646.8,195.9 648.6,195.3 650.5,194.7 652.3,194.1 654.1,193.5 655.9,192.9 657.8,192.3 659.6,191.7 661.4,191.2 663.3,190.7 665.1,190.2 666.9,189.7 668.7,189.2 670.6,188.8 672.4,188.4 674.2,188.1 676.1,187.8 677.9,187.5 679.7,187.3 681.5,187.1 683.4,186.9 685.2,186.7 687.0,186.6 688.9,186.5 690.7,186.4 692.5,186.3 694.3,186.2 696.2,186.1 698.0,186.0 699.8,185.9 701.7,185.8 703.5,185.7 705.3,185.6 707.1,185.5 709.0,185.4 710.8,185.3 712.6,185.2 714.4,185.1 716.3,185.0 718.1,184.9 719.9,184.8 721.8,184.7 723.6,184.5 725.4,184.4 727.2,184.3 729.1,184.2 730.9,184.1 732.7,184.0 734.6,183.9 736.4,183.7 738.2,183.6 740.0,183.5 741.9,183.4 743.7,183.3 745.5,183.2 747.4,183.1 749.2,183.0 751.0,182.9 752.8,182.8 754.7,182.7 756.5,182.6 758.3,182.6 760.2,182.5 762.0,182.4 763.8,182.3 765.6,182.2 767.5,182.2 769.3,182.1 771.1,182.0 773.0,181.9 774.8,181.9 776.6,181.8 778.4,181.7 780.3,181.6 782.1,181.6 783.9,181.5 785.7,181.5 787.6,181.4 789.4,181.3 791.2,181.3 793.1,181.2 794.9,181.2 796.7,181.2 798.5,181.1 800.4,181.1 802.2,181.1 804.0,181.0 805.9,181.0 807.7,181.0 809.5,181.0 811.3,181.0 813.2,181.0 815.0,180.9 816.8,180.9 818.7,180.9 820.5,180.9 822.3,180.9 824.1,180.9 826.0,180.9 827.8,180.8 829.6,180.8 831.5,180.8 833.3,180.8 835.1,180.7 836.9,180.6 838.8,180.6 840.6,180.4 842.4,180.3 844.2,180.2 846.1,180.0 847.9,179.9 849.7,179.8 851.6,179.7 853.4,179.6 855.2,179.6 857.0,179.6 858.9,179.6 860.7,179.5 862.5,179.5 864.4,179.5 866.2,179.5 868.0,179.5 869.8,179.5 871.7,179.5 873.5,179.5 875.3,179.5 877.2,179.5 879.0,179.5 880.8,179.5 882.6,179.5 884.5,179.5 886.3,179.5 888.1,179.5 890.0,179.5 891.8,179.5 893.6,179.5 895.4,179.5 897.3,179.4 899.1,179.4 900.9,179.4 902.8,179.4 904.6,179.4 906.4,179.4 908.2,179.4 910.1,179.4 911.9,179.4 913.7,179.4 915.5,179.4 917.4,179.4 919.2,179.4 921.0,179.4 922.9,179.4 924.7,179.4 926.5,179.4 928.3,179.4 930.2,179.4 932.0,179.3 933.8,179.3 935.7,179.3 937.5,179.3 939.3,179.3 941.1,179.3 943.0,179.3 944.8,179.3 946.6,179.3 948.5,179.3 950.3,179.3 952.1,179.3 953.9,179.3 955.8,179.2 957.6,179.2 959.4,179.2 961.3,179.2 963.1,179.2 964.9,179.2 966.7,179.2 968.6,179.2 970.4,179.1 972.2,179.1 974.0,179.1 975.9,179.1 977.7,179.1 979.5,179.1 981.4,179.0 983.2,179.0 985.0,179.0 986.8,179.0 988.7,178.9 990.5,178.9 992.3,178.9 994.2,178.8 996.0,178.8 997.8,178.7 999.6,178.6 1001.5,178.5 1003.3,178.3 1005.1,178.1 1007.0,178.0 1008.8,177.8 1010.6,177.7 1012.4,177.6 1014.3,177.5 1016.1,177.5 1017.9,177.4 1019.8,177.4 1021.6,177.4 1023.4,177.4 1025.2,177.4 1027.1,177.3 1028.9,177.3 1030.7,177.3 1032.5,177.3 1034.4,177.3 1036.2,177.3 1038.0,177.3 1039.9,177.3 1041.7,177.2 1043.5,177.2 1045.3,177.2 1047.2,177.2 1049.0,177.2 1050.8,177.2 1052.7,177.2 1054.5,177.2 1056.3,177.2 1058.1,177.1 1060.0,177.1 1061.8,177.1 1063.6,177.1 1065.5,177.1 1067.3,177.1 1069.1,177.1 1070.9,177.1 1072.8,177.1 1074.6,177.1 1076.4,177.1 1078.3,177.1 1080.1,177.0 1081.9,177.0 1083.7,177.0 1085.6,177.0 1087.4,177.0 1089.2,177.0 1091.1,177.0 1092.9,177.0 1094.7,177.0 1096.5,177.0 1098.4,177.0 1100.2,177.0 1102.0,177.0 1103.8,177.0 1105.7,177.0 1107.5,177.0 1109.3,177.0 1111.2,177.0 1113.0,176.9 1114.8,176.9 1116.6,176.9 1118.5,176.9 1120.3,176.9 1122.1,176.9 1124.0,176.9 1125.8,176.9 1127.6,176.9 1129.4,176.9 1131.3,176.9 1133.1,176.9 1134.9,176.9 1136.8,176.9 1138.6,176.9 1140.4,176.9 1142.2,176.9 1144.1,176.9 1145.9,176.9 1147.7,176.9 1149.6,176.9 1151.4,176.9 1153.2,176.9 1155.0,176.9 1156.9,176.9 1158.7,176.9 1160.5,176.9 1162.3,176.9 1164.2,176.9 1166.0,176.9 1167.8,176.9 1169.7,176.9 1171.5,176.9 1173.3,176.8 1175.1,176.8 1177.0,176.8 1178.8,176.8 1180.6,176.8 1182.5,176.8 1184.3,176.8 1186.1,176.8 1187.9,176.8 1189.8,176.8 1191.6,176.8 1193.4,176.8 1195.3,176.8 1197.1,176.8 1198.9,176.8 1200.7,176.8 1202.6,176.8 1204.4,176.8 1206.2,176.8 1208.1,176.8 1209.9,176.8 1211.7,176.8 1213.5,176.8 1215.4,176.8 1217.2,176.8 1219.0,176.8 1220.9,176.8 1222.7,176.7 1224.5,176.7 1226.3,176.7 1228.2,176.7 1230.0,176.7 1231.8,176.7 1233.6,176.7 1235.5,176.7 1237.3,176.7 1239.1,176.7 1241.0,176.7 1242.8,176.7 1244.6,176.7 1246.4,176.7 1248.3,176.7 1250.1,176.7 1251.9,176.7 1253.8,176.7 1255.6,176.7 1257.4,176.7 1259.2,176.7 1261.1,176.7 1262.9,176.7 1264.7,176.7 1266.6,176.7 1268.4,176.7 1270.2,176.6 1272.0,176.6 1273.9,176.6 1275.7,176.6 1277.5,176.6 1279.4,176.6 1281.2,176.6 1283.0,176.6 1284.8,176.6 1286.7,176.6 1288.5,176.6 1290.3,176.6 1292.1,176.6 1294.0,176.6 1295.8,176.6 1297.6,176.6 1299.5,176.6 1301.3,176.6 1303.1,176.6 1304.9,176.6 1306.8,176.6 1308.6,176.6 1310.4,176.6 1312.3,176.6 1314.1,176.6 1315.9,176.6 1317.7,176.6 1319.6,176.6 1321.4,176.5 1323.2,176.5 1325.1,176.5 1326.9,176.5 1328.7,176.5 1330.5,176.5 1332.4,176.5 1334.2,176.5 1336.0,176.5 1337.9,176.5 1339.7,176.5 1341.5,176.5 1343.3,176.5 1345.2,176.5 1347.0,176.5 1348.8,176.5 1350.7,176.5 1352.5,176.5 1354.3,176.5 1356.1,176.5 1358.0,176.5 1359.8,176.5 1361.6,176.5 1363.4,176.5 1365.3,176.5 1367.1,176.5 1368.9,176.5 1370.8,176.5 1372.6,176.5 1374.4,176.5 1376.2,176.5 1378.1,176.5 1379.9,176.5 1381.7,176.5 1383.6,176.5 1385.4,176.5 1387.2,176.5 1389.0,176.4 1390.9,176.4 1392.7,176.4 1394.5,176.4 1396.4,176.4 1398.2,176.4 1400.0,176.4 1401.8,176.4 1403.7,176.4 1405.5,176.4 1407.3,176.4 1409.2,176.4 1411.0,176.4 1412.8,176.4 1414.6,176.4 1416.5,176.4 1418.3,176.4 1420.1,176.4 1421.9,176.4 1423.8,176.4 1425.6,176.4 1427.4,176.4 1429.3,176.4 1431.1,176.4 1432.9,176.4 1434.7,176.4 1436.6,176.4 1438.4,176.4 1440.2,176.4 1442.1,176.4 1443.9,176.4 1445.7,176.4 1447.5,176.4 1449.4,176.4 1451.2,176.4"/>
</g>
<g stroke="#3c3c3c" fill="none" stroke-linecap="butt">
<line x1="263.1" y1="34.800000000000004" x2="263.1" y2="996.4" stroke-width="3.9"/>
<line x1="1543.8" y1="34.800000000000004" x2="1543.8" y2="996.4" stroke-width="3.9"/>
<line x1="250.8" y1="36.7" x2="1545.7" y2="36.7" stroke-width="3.8"/>
<line x1="250.8" y1="987.8" x2="1545.8" y2="987.8" stroke="#1e1e1e" stroke-width="3.4"/>
</g>
<g stroke="#1a1a1a" fill="none" stroke-linecap="butt">
<line x1="354.3" y1="987.8" x2="354.3" y2="1004.8" stroke-width="2.9"/>
<line x1="354.3" y1="36.7" x2="354.3" y2="50.9" stroke-width="2.9"/>
<line x1="444.9" y1="987.8" x2="444.9" y2="996.4" stroke-width="2.9"/>
<line x1="444.9" y1="36.7" x2="444.9" y2="43.9" stroke-width="2.9"/>
<line x1="536.4" y1="987.8" x2="536.4" y2="1004.8" stroke-width="2.9"/>
<line x1="536.4" y1="36.7" x2="536.4" y2="50.9" stroke-width="2.9"/>
<line x1="627.0" y1="987.8" x2="627.0" y2="996.4" stroke-width="2.9"/>
<line x1="627.0" y1="36.7" x2="627.0" y2="43.9" stroke-width="2.9"/>
<line x1="718.8" y1="987.8" x2="718.8" y2="1004.8" stroke-width="2.9"/>
<line x1="718.8" y1="36.7" x2="718.8" y2="50.9" stroke-width="2.9"/>
<line x1="811.9" y1="987.8" x2="811.9" y2="996.4" stroke-width="2.9"/>
<line x1="811.9" y1="36.7" x2="811.9" y2="43.9" stroke-width="2.9"/>
<line x1="903.7" y1="987.8" x2="903.7" y2="1004.8" stroke-width="2.9"/>
<line x1="903.7" y1="36.7" x2="903.7" y2="50.9" stroke-width="2.9"/>
<line x1="994.3" y1="987.8" x2="994.3" y2="996.4" stroke-width="2.9"/>
<line x1="994.3" y1="36.7" x2="994.3" y2="43.9" stroke-width="2.9"/>
<line x1="1085.5" y1="987.8" x2="1085.5" y2="1004.8" stroke-width="2.9"/>
<line x1="1085.5" y1="36.7" x2="1085.5" y2="50.9" stroke-width="2.9"/>
<line x1="1176.4" y1="987.8" x2="1176.4" y2="996.4" stroke-width="2.9"/>
<line x1="1176.4" y1="36.7" x2="1176.4" y2="43.9" stroke-width="2.9"/>
<line x1="1268.1" y1="987.8" x2="1268.1" y2="1004.8" stroke-width="2.9"/>
<line x1="1268.1" y1="36.7" x2="1268.1" y2="50.9" stroke-width="2.9"/>
<line x1="1358.8" y1="987.8" x2="1358.8" y2="996.4" stroke-width="2.9"/>
<line x1="1358.8" y1="36.7" x2="1358.8" y2="43.9" stroke-width="2.9"/>
<line x1="1452.8" y1="987.8" x2="1452.8" y2="1004.8" stroke-width="2.9"/>
<line x1="1452.8" y1="36.7" x2="1452.8" y2="50.9" stroke-width="2.9"/>
<line x1="263.1" y1="907.4" x2="243.1" y2="907.4" stroke-width="2.9"/>
<line x1="1543.8" y1="907.4" x2="1526.5" y2="907.4" stroke-width="2.9"/>
<line x1="263.1" y1="828.1" x2="250.8" y2="828.1" stroke-width="2.9"/>
<line x1="1543.8" y1="828.1" x2="1534.8" y2="828.1" stroke-width="2.9"/>
<line x1="263.1" y1="748.7" x2="243.1" y2="748.7" stroke-width="2.9"/>
<line x1="1543.8" y1="748.7" x2="1526.5" y2="748.7" stroke-width="2.9"/>
<line x1="263.1" y1="669.4" x2="250.8" y2="669.4" stroke-width="2.9"/>
<line x1="1543.8" y1="669.4" x2="1534.8" y2="669.4" stroke-width="2.9"/>
<line x1="263.1" y1="590.0" x2="243.1" y2="590.0" stroke-width="2.9"/>
<line x1="1543.8" y1="590.0" x2="1526.5" y2="590.0" stroke-width="2.9"/>
<line x1="263.1" y1="510.7" x2="250.8" y2="510.7" stroke-width="2.9"/>
<line x1="1543.8" y1="510.7" x2="1534.8" y2="510.7" stroke-width="2.9"/>
<line x1="263.1" y1="431.4" x2="243.1" y2="431.4" stroke-width="2.9"/>
<line x1="1543.8" y1="431.4" x2="1526.5" y2="431.4" stroke-width="2.9"/>
<line x1="263.1" y1="352.0" x2="250.8" y2="352.0" stroke-width="2.9"/>
<line x1="1543.8" y1="352.0" x2="1534.8" y2="352.0" stroke-width="2.9"/>
<line x1="263.1" y1="272.7" x2="243.1" y2="272.7" stroke-width="2.9"/>
<line x1="1543.8" y1="272.7" x2="1526.5" y2="272.7" stroke-width="2.9"/>
<line x1="263.1" y1="193.3" x2="250.8" y2="193.3" stroke-width="2.9"/>
<line x1="1543.8" y1="193.3" x2="1534.8" y2="193.3" stroke-width="2.9"/>
<line x1="263.1" y1="114.0" x2="243.1" y2="114.0" stroke-width="2.9"/>
<line x1="1543.8" y1="114.0" x2="1526.5" y2="114.0" stroke-width="2.9"/>
</g>
<text transform="translate(227.34,924.30) scale(1.0000,1.0520)" text-anchor="end" font-size="68.7">0</text>
<text transform="translate(227.34,765.62) scale(1.0000,1.0520)" text-anchor="end" font-size="68.7">20</text>
<text transform="translate(227.34,606.94) scale(1.0000,1.0520)" text-anchor="end" font-size="68.7">40</text>
<text transform="translate(227.34,448.26) scale(1.0000,1.0520)" text-anchor="end" font-size="68.7">60</text>
<text transform="translate(227.34,289.58) scale(1.0000,1.0520)" text-anchor="end" font-size="68.7">80</text>
<text transform="translate(227.34,130.90) scale(1.0000,1.0520)" text-anchor="end" font-size="68.7">100</text>
<text transform="translate(351.85,1071.00)" text-anchor="middle" font-size="70.8">200</text>
<text transform="translate(534.78,1071.00)" text-anchor="middle" font-size="70.8">300</text>
<text transform="translate(717.71,1071.00)" text-anchor="middle" font-size="70.8">400</text>
<text transform="translate(900.64,1071.00)" text-anchor="middle" font-size="70.8">500</text>
<text transform="translate(1083.57,1071.00)" text-anchor="middle" font-size="70.8">600</text>
<text transform="translate(1266.50,1071.00)" text-anchor="middle" font-size="70.8">700</text>
<text transform="translate(1449.43,1071.00)" text-anchor="middle" font-size="70.8">800</text>
<text transform="translate(626.70,1178.30) scale(1.0000,1.0240)" text-anchor="start" font-size="71.3">Wavelength(nm)</text>
<text transform="translate(84.90,836.60) rotate(-90) scale(1.0000,1.0460)" text-anchor="start" font-size="73.4">Transmittance(%)</text>
<line x1="822.2" y1="545.8" x2="1010.5" y2="545.8" stroke="#000" stroke-width="3.6" stroke-opacity="0.78"/>
<rect x="903.3" y="530.1" width="29.2" height="28.1" fill="#000"/>
<text transform="translate(1031.90,573.40) scale(1.0000,1.0350)" text-anchor="start" font-size="63.3">Zr : In=0 at.%</text>
<line x1="822.2" y1="638.2" x2="1010.5" y2="638.2" stroke="#f00" stroke-width="3.6" stroke-opacity="0.78"/>
<circle cx="918.2" cy="637.1" r="13.9" fill="#f00"/>
<text transform="translate(1031.90,666.30) scale(1.0000,1.0350)" text-anchor="start" font-size="63.3">Zr : In=5 at.%</text>
<line x1="822.2" y1="730.8" x2="1010.5" y2="730.8" stroke="#00f" stroke-width="3.6" stroke-opacity="0.78"/>
<path d="M918.5 709.4 L938.8 740.7 L897.0 740.7 Z" fill="#00f"/>
<text transform="translate(1031.90,758.80) scale(1.0000,1.0350)" text-anchor="start" font-size="63.3">Zr : In=10 at.%</text>
<line x1="822.2" y1="823.5" x2="1010.5" y2="823.5" stroke="#008080" stroke-width="3.6" stroke-opacity="0.78"/>
<path d="M918 845.6 L938.2 813.6 L897.6 813.6 Z" fill="#008080"/>
<text transform="translate(1031.90,846.20) scale(1.0000,1.0350)" text-anchor="start" font-size="63.3">Zr : In=15 at.%</text>
<line x1="822.2" y1="915.7" x2="1010.5" y2="915.7" stroke="#f0f" stroke-width="3.6" stroke-opacity="0.78"/>
<path d="M898.3 915.2 L930.3 894.1 L930.3 934.9 Z" fill="#f0f"/>
<text transform="translate(1031.90,934.50) scale(1.0000,1.0350)" text-anchor="start" font-size="63.3">Glass substrate</text>
</g>
</svg>
</body>
</html>
